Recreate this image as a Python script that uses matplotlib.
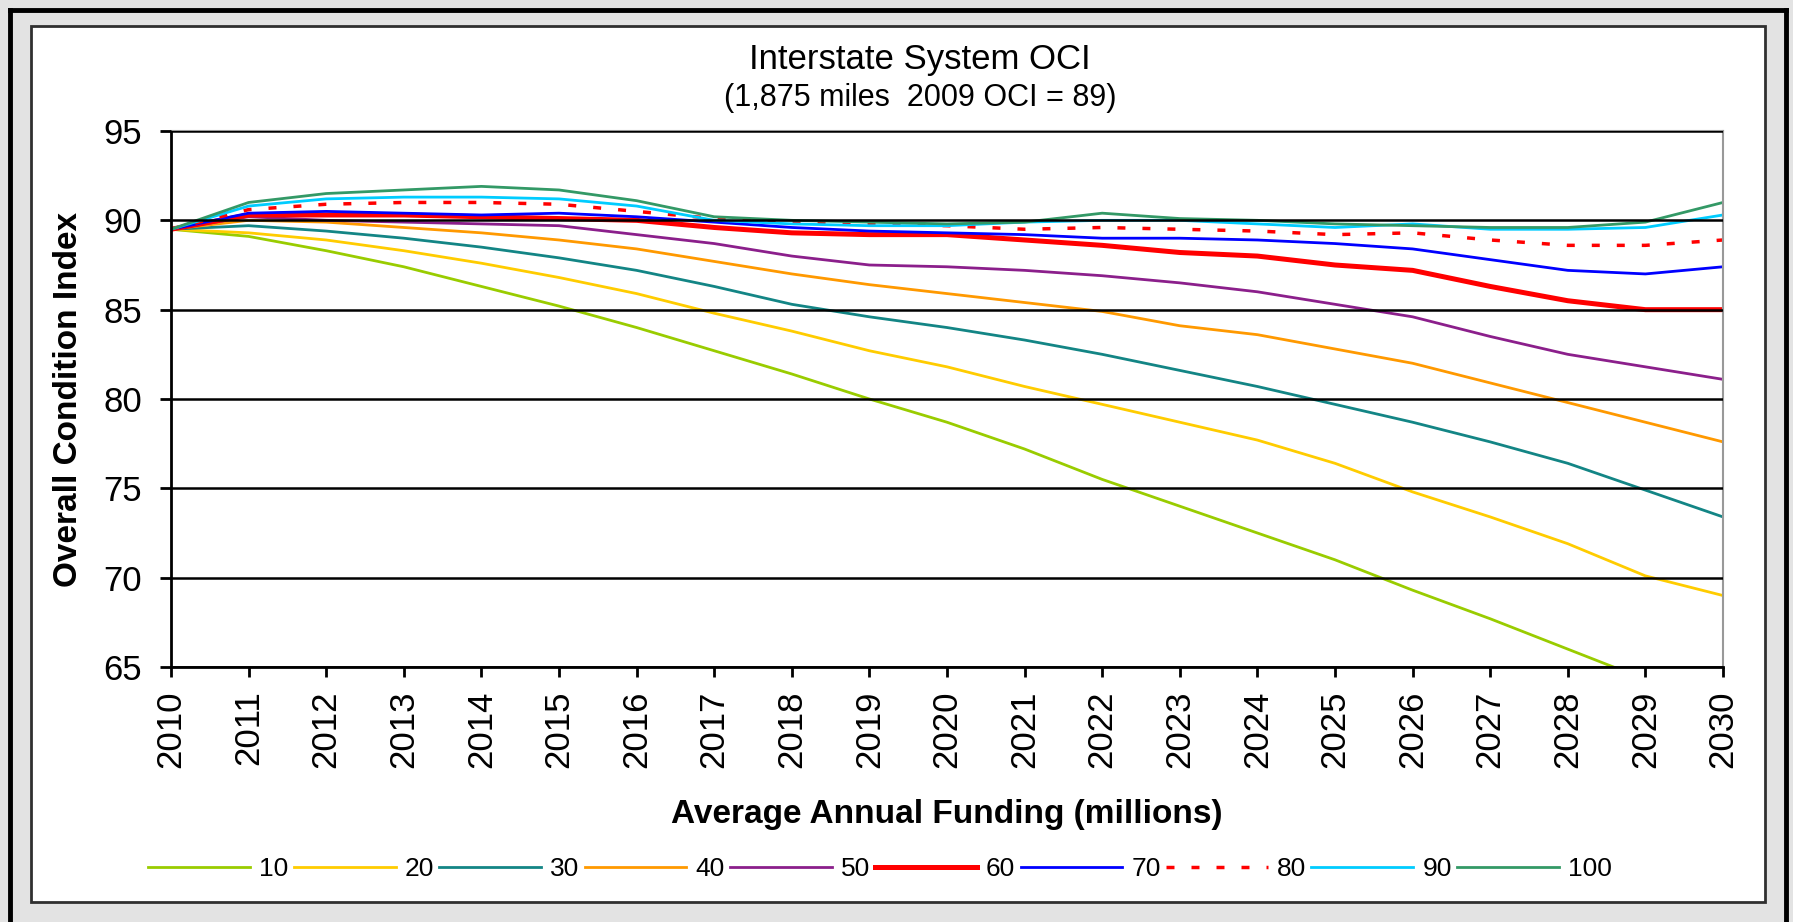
import numpy as np
import matplotlib
matplotlib.use('Agg')
import matplotlib.pyplot as plt
from matplotlib import font_manager
from matplotlib.patches import Rectangle
from matplotlib.lines import Line2D

# ------- data -------
years = list(range(2010, 2031))

oci_10 = [89.5, 89.1, 88.3, 87.4, 86.3, 85.2, 84.0, 82.7, 81.4, 80.0, 78.7,
          77.2, 75.5, 74.0, 72.5, 71.0, 69.3, 67.7, 66.0, 64.3, 62.5]
oci_20 = [89.5, 89.3, 88.9, 88.3, 87.6, 86.8, 85.9, 84.8, 83.8, 82.7, 81.8,
          80.7, 79.7, 78.7, 77.7, 76.4, 74.8, 73.4, 71.9, 70.1, 69.0]
oci_30 = [89.5, 89.7, 89.4, 89.0, 88.5, 87.9, 87.2, 86.3, 85.3, 84.6, 84.0,
          83.3, 82.5, 81.6, 80.7, 79.7, 78.7, 77.6, 76.4, 74.9, 73.4]
oci_40 = [89.5, 90.0, 89.9, 89.6, 89.3, 88.9, 88.4, 87.7, 87.0, 86.4, 85.9,
          85.4, 84.9, 84.1, 83.6, 82.8, 82.0, 80.9, 79.8, 78.7, 77.6]
oci_50 = [89.5, 90.2, 90.0, 89.9, 89.8, 89.7, 89.2, 88.7, 88.0, 87.5, 87.4,
          87.2, 86.9, 86.5, 86.0, 85.3, 84.6, 83.5, 82.5, 81.8, 81.1]
oci_60 = [89.5, 90.3, 90.3, 90.3, 90.2, 90.1, 90.0, 89.6, 89.3, 89.2, 89.2,
          88.9, 88.6, 88.2, 88.0, 87.5, 87.2, 86.3, 85.5, 85.0, 85.0]
oci_70 = [89.5, 90.4, 90.5, 90.4, 90.3, 90.4, 90.2, 89.9, 89.6, 89.4, 89.3,
          89.2, 89.0, 89.0, 88.9, 88.7, 88.4, 87.8, 87.2, 87.0, 87.4]
oci_80 = [89.5, 90.6, 90.9, 91.0, 91.0, 90.9, 90.5, 90.1, 89.9, 89.8, 89.7,
          89.5, 89.6, 89.5, 89.4, 89.2, 89.3, 88.9, 88.6, 88.6, 88.9]
oci_90 = [89.5, 90.8, 91.2, 91.3, 91.3, 91.2, 90.8, 90.0, 89.8, 89.7, 89.7,
          89.9, 90.0, 90.0, 89.8, 89.6, 89.8, 89.5, 89.5, 89.6, 90.3]
oci_100 = [89.5, 91.0, 91.5, 91.7, 91.9, 91.7, 91.1, 90.2, 90.0, 89.9, 89.8,
           89.9, 90.4, 90.1, 90.0, 89.8, 89.7, 89.6, 89.6, 89.9, 91.0]

labels = ['10', '20', '30', '40', '50', '60', '70', '80', '90', '100']
series = [oci_10, oci_20, oci_30, oci_40, oci_50, oci_60, oci_70, oci_80, oci_90, oci_100]

colors = ['#99cc00', '#ffcc00', '#138585', '#ff9900', '#8b1f8b',
          '#ff0000', '#0000ff', '#ff0000', '#00ccff', '#339966']
widths = [2, 2, 2, 2, 2, 3.6, 2, 2.5, 2, 2]
styles = ['-', '-', '-', '-', '-', '-', '-', (0, (2.3, 4.9)), '-', '-']

names = {f.name for f in font_manager.fontManager.ttflist}
base = 'Liberation Sans'
narrow = 'Liberation Sans Narrow' if 'Liberation Sans Narrow' in names else base
plt.rcParams['font.family'] = [base, 'DejaVu Sans']

W, H = 1793, 922
fig = plt.figure(figsize=(W / 100, H / 100), dpi=100)
fig.patch.set_facecolor('#e3e3e3')

# outer black frame and the white chart panel (kept behind the axes)
for xs, ys in [([10, 10], [922, 10]), ([10, 1786], [10, 10]), ([1786, 1786], [10, 922])]:
    fig.add_artist(Line2D([x / W for x in xs], [1 - y / H for y in ys],
                          transform=fig.transFigure, color='black', lw=3.5, zorder=-2))
fig.add_artist(Rectangle((31 / W, 1 - 902 / H), (1765 - 31) / W, (902 - 26) / H,
                         transform=fig.transFigure, facecolor='white', edgecolor='#303030',
                         lw=2, zorder=-1))

ax = fig.add_axes([171 / W, 1 - 667 / H, (1723 - 171) / W, (667 - 131) / H])
for vals, lab, c, lw, ls in zip(series, labels, colors, widths, styles):
    ax.plot(years, vals, color=c, lw=lw, ls=ls, label=lab)

ax.set_xlim(2010, 2030)
ax.set_ylim(65, 95)
ax.set_xticks(years)
ax.set_yticks(range(65, 96, 5))
ax.yaxis.grid(True, color='black', lw=1.8)
ax.set_axisbelow(False)

ax.spines['left'].set_color('black')
ax.spines['left'].set_linewidth(2)
ax.spines['bottom'].set_color('black')
ax.spines['bottom'].set_linewidth(2)
ax.spines['top'].set_color('#999999')
ax.spines['top'].set_linewidth(1.5)
ax.spines['right'].set_color('#999999')
ax.spines['right'].set_linewidth(1.5)

ax.tick_params(axis='y', direction='out', length=8, width=2, pad=13, labelsize=25)
ax.tick_params(axis='x', direction='out', length=7, width=2, pad=10, labelsize=25, labelrotation=90)
for t in ax.get_yticklabels():
    t.set_fontfamily([narrow, 'DejaVu Sans'])

ax.set_xlabel('Average Annual Funding (millions)', fontsize=24, fontweight='bold', labelpad=22)
ax.set_ylabel('Overall Condition Index', fontsize=24, fontweight='bold', labelpad=14)

fig.text(920 / W, 1 - 59 / H, 'Interstate System OCI', ha='center', va='center', fontsize=25)
fig.text(920 / W, 1 - 98 / H, '(1,875 miles  2009 OCI = 89)', ha='center', va='center', fontsize=22)

leg = fig.legend(loc='center', bbox_to_anchor=(880 / W, 1 - 869 / H), ncol=10, frameon=False,
                 prop={'family': [narrow, 'DejaVu Sans'], 'size': 19},
                 handlelength=3.86, handletextpad=0.34, columnspacing=0.2, borderpad=0)

fig.savefig('out.png', dpi=100, facecolor=fig.get_facecolor())
